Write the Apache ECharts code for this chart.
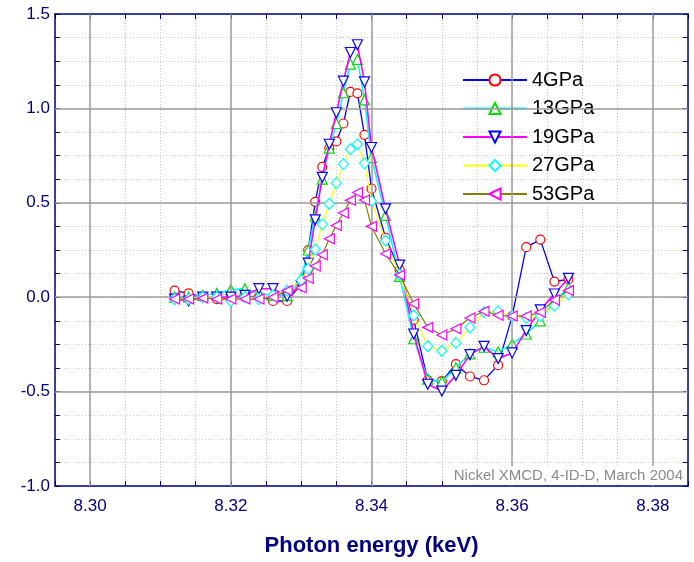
<!DOCTYPE html>
<html>
<head>
<meta charset="utf-8">
<script src="https://cdn.jsdelivr.net/npm/echarts@6/dist/echarts.min.js"></script>
<style>
html,body{margin:0;padding:0;background:#fff;}
#chart{width:694px;height:562px;}
</style>
</head>
<body>
<div id="chart"></div>
<script>
// Photon energy (keV)
const energy = [8.312, 8.314, 8.316, 8.318, 8.320, 8.322, 8.324, 8.326, 8.328, 8.330,
  8.331, 8.332, 8.333, 8.334, 8.335, 8.336, 8.337, 8.338, 8.339, 8.340,
  8.342, 8.344, 8.346, 8.348, 8.350, 8.352, 8.354, 8.356, 8.358, 8.360,
  8.362, 8.364, 8.366, 8.368];

const gpa4 = [0.035, 0.02, 0.0, -0.01, 0.0, 0.0, 0.005, -0.02, -0.02, 0.07,
  0.25, 0.505, 0.69, 0.79, 0.825, 0.92, 1.087, 1.08, 0.86, 0.575,
  0.315, 0.145, -0.12, -0.44, -0.445, -0.355, -0.42, -0.44, -0.36, -0.1,
  0.265, 0.305, 0.083, 0.095];

const gpa13 = [0.0, 0.0, 0.01, 0.02, 0.04, 0.044, 0.02, 0.01, 0.01, 0.1,
  0.25, 0.43, 0.625, 0.79, 0.92, 1.083, 1.235, 1.26, 1.045, 0.74,
  0.433, 0.11, -0.22, -0.434, -0.447, -0.374, -0.3, -0.265, -0.29, -0.247,
  -0.195, -0.125, -0.02, 0.051];

const gpa19 = [-0.01, -0.02, 0.0, 0.0, 0.0, 0.01, 0.045, 0.045, 0.005, 0.06,
  0.18, 0.41, 0.635, 0.81, 0.977, 1.144, 1.296, 1.337, 1.14, 0.793,
  0.468, 0.17, -0.195, -0.461, -0.497, -0.414, -0.304, -0.26, -0.325, -0.295,
  -0.177, -0.067, 0.017, 0.1];

const gpa27 = [-0.01, -0.01, 0.0, 0.0, -0.02, 0.0, -0.01, 0.01, 0.035, 0.09,
  0.15, 0.253, 0.386, 0.495, 0.604, 0.705, 0.784, 0.81, 0.709, 0.51,
  0.3, 0.12, -0.097, -0.26, -0.284, -0.242, -0.16, -0.079, -0.075, -0.1,
  -0.11, -0.1, -0.045, 0.015];

const gpa53 = [-0.01, -0.01, -0.005, -0.01, -0.01, -0.01, -0.01, 0.0, 0.035, 0.05,
  0.1, 0.165, 0.225, 0.31, 0.38, 0.446, 0.513, 0.555, 0.515, 0.375,
  0.23, 0.117, -0.035, -0.16, -0.2, -0.167, -0.11, -0.074, -0.096, -0.1,
  -0.1, -0.08, -0.015, 0.035];

const seriesNames = ['4GPa', '13GPa', '19GPa', '27GPa', '53GPa'];
const xMajorTicks = [8.30, 8.32, 8.34, 8.36, 8.38];
const yMajorTicks = [-1.0, -0.5, 0.0, 0.5, 1.0, 1.5];
const annotation = 'Nickel XMCD, 4-ID-D, March 2004';
const xTitle = 'Photon energy (keV)';

const FONT = '"Liberation Sans", Arial, sans-serif';
const NAVY = '#000080';

function pairs(ys) { return energy.map((e, i) => [e, ys[i]]); }

const styles = [
  { data: gpa4,  symbol: 'circle',   rot: 0,   size: 9,        line: '#0000ff', lw: 1.3, mk: '#ff0000' },
  { data: gpa13, symbol: 'triangle', rot: 0,   size: 10,       line: '#00ffff', lw: 1.6, mk: '#00dd00' },
  { data: gpa19, symbol: 'triangle', rot: 180, size: 10,       line: '#ff00ff', lw: 1.6, mk: '#0000ff' },
  { data: gpa27, symbol: 'diamond',  rot: 0,   size: [10, 11], line: '#ffff00', lw: 1.2, mk: '#00ffff' },
  { data: gpa53, symbol: 'triangle', rot: 90,  size: 10,       line: '#808000', lw: 1.2, mk: '#ff00ff' }
];

const series = styles.map((s, k) => ({
  name: seriesNames[k],
  type: 'line',
  data: pairs(s.data),
  symbol: s.symbol,
  symbolRotate: s.rot,
  symbolSize: s.size,
  showAllSymbol: true,
  z: 3 + k,
  lineStyle: { color: s.line, width: s.lw },
  itemStyle: { color: '#ffffff', borderColor: s.mk, borderWidth: 1.2 },
  emphasis: { disabled: true }
}));

series.unshift({
  name: 'grid-major',
  type: 'line',
  data: [],
  z: 1,
  silent: true,
  markLine: {
    silent: true,
    symbol: ['none', 'none'],
    label: { show: false },
    animation: false,
    lineStyle: { color: '#9c9c9c', type: 'solid', width: 1.5 },
    data: xMajorTicks.map(v => ({ xAxis: v })).concat(yMajorTicks.slice(1, -1).map(v => ({ yAxis: v })))
  }
});

const chart = echarts.init(document.getElementById('chart'), null, { renderer: 'canvas' });

const baseX = {
  type: 'value', min: 8.295, max: 8.385, interval: 0.005,
  axisLine: { show: true, onZero: false, lineStyle: { color: NAVY, width: 1.5 } },
  axisTick: { show: true, inside: true, length: 5, lineStyle: { color: NAVY, width: 1 } }
};
const baseY = {
  type: 'value', min: -1.0, max: 1.5, interval: 0.125,
  axisLine: { show: true, onZero: false, lineStyle: { color: NAVY, width: 1.5 } },
  axisTick: { show: true, inside: true, length: 5, lineStyle: { color: NAVY, width: 1 } }
};

chart.setOption({
  animation: false,
  backgroundColor: '#ffffff',
  textStyle: { fontFamily: FONT },
  grid: { left: 55, right: 6, top: 14, bottom: 72, containLabel: false },
  xAxis: [
    Object.assign({}, baseX, {
      position: 'bottom',
      name: xTitle,
      nameLocation: 'middle',
      nameGap: 49,
      nameTextStyle: { color: NAVY, fontSize: 22, fontWeight: 'bold', fontFamily: FONT },
      axisLabel: {
        color: NAVY, fontSize: 17, fontFamily: FONT, margin: 12,
        formatter: v => (Math.round(v * 1000) % 20 === 0 ? v.toFixed(2) : '')
      },
      splitLine: { show: true, lineStyle: { color: '#c8c8c8', type: [1, 2], width: 1 } }
    }),
    Object.assign({}, baseX, {
      position: 'top',
      axisLabel: { show: false },
      splitLine: { show: false }
    })
  ],
  yAxis: [
    Object.assign({}, baseY, {
      position: 'left',
      axisLabel: {
        color: NAVY, fontSize: 17, fontFamily: FONT, margin: 5,
        formatter: v => (Math.round(v * 1000) % 500 === 0 ? v.toFixed(1) : '')
      },
      splitLine: { show: true, lineStyle: { color: '#c8c8c8', type: [1, 2], width: 1 } }
    }),
    Object.assign({}, baseY, {
      position: 'right',
      axisLabel: { show: false },
      splitLine: { show: false }
    })
  ],
  legend: {
    show: true,
    data: seriesNames,
    orient: 'vertical',
    left: 462,
    top: 69,
    padding: 0,
    itemWidth: 64,
    itemHeight: 14,
    itemGap: 6.5,
    selectedMode: false,
    textStyle: { color: '#000', fontSize: 20, lineHeight: 22, fontFamily: FONT }
  },
  graphic: [{
    type: 'text',
    right: 8,
    top: 466,
    z: 100,
    style: {
      text: annotation,
      fill: '#8a8a8a',
      font: '15px ' + FONT,
      backgroundColor: '#ffffff',
      padding: [2, 3, 2, 3]
    }
  }],
  series: series
});
</script>
</body>
</html>
